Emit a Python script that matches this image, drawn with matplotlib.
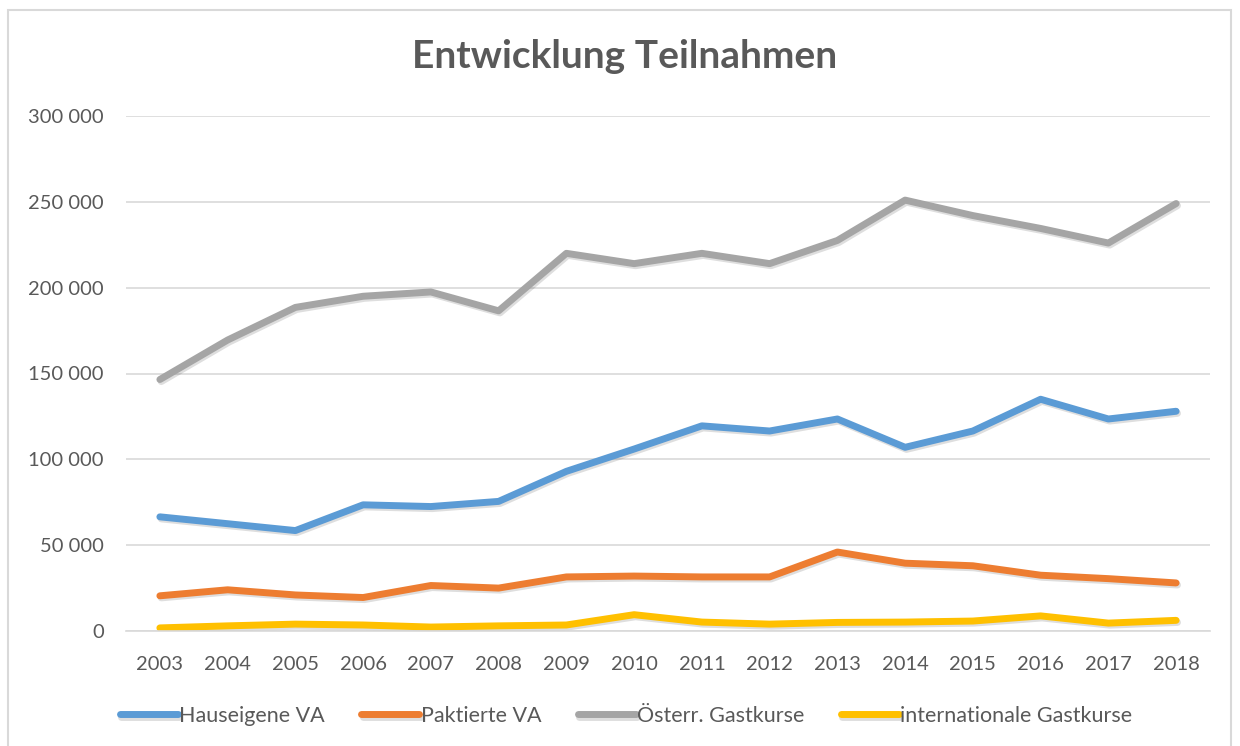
import matplotlib
matplotlib.use("Agg")
import matplotlib.pyplot as plt
import matplotlib.patheffects as pe
from matplotlib.ticker import FuncFormatter, MultipleLocator
from matplotlib.patches import Rectangle

years = list(range(2003, 2019))

hauseigene = [66500, 62500, 58500, 73500, 72500, 75500, 93000, 106000,
              119500, 116500, 123500, 107000, 116500, 135000, 123500, 128000]
paktierte = [20500, 24000, 21000, 19500, 26500, 25000, 31500, 32000,
             31500, 31500, 46000, 39500, 38000, 32500, 30500, 28000]
oesterr = [146500, 169500, 188500, 195000, 197500, 186500, 220000, 214000,
           220000, 214000, 227500, 251000, 242000, 234500, 226000, 249000]
international = [1800, 3000, 4000, 3500, 2300, 3000, 3500, 9500,
                 5200, 4000, 5000, 5200, 5800, 8800, 4600, 6200]

series_names = ["Hauseigene VA", "Paktierte VA", "Österr. Gastkurse", "internationale Gastkurse"]
colors = ["#5B9BD5", "#ED7D31", "#A5A5A5", "#FFC000"]
text_color = "#595959"

plt.rcParams['font.family'] = ['Lato', 'DejaVu Sans']

fig = plt.figure(figsize=(12.4, 7.46), dpi=100)
ax = fig.add_axes([126 / 1240, 1 - 631 / 746, (1210 - 126) / 1240, (631 - 116) / 746])

# light border round the chart area
fig.patches.append(Rectangle((8 / 1240, -0.05), (1231 - 8) / 1240, 1.05 - 10 / 746,
                             transform=fig.transFigure, fill=False,
                             edgecolor="#D9D9D9", linewidth=1.5))

shadow = [pe.SimpleLineShadow(offset=(1, -1.5), shadow_color="black", alpha=0.13),
          pe.Normal()]

for vals, name, c in zip([hauseigene, paktierte, oesterr, international], series_names, colors):
    ax.plot(years, vals, color=c, linewidth=5, label=name,
            solid_capstyle="round", solid_joinstyle="round", path_effects=shadow)

ax.set_xlim(2002.5, 2018.5)
ax.set_ylim(0, 300000)
ax.yaxis.set_major_locator(MultipleLocator(50000))
ax.yaxis.set_major_formatter(FuncFormatter(lambda v, p: f"{int(v):,}".replace(",", " ")))
ax.set_xticks(years)
ax.set_xticklabels([str(y) for y in years])

ax.grid(axis="y", color="#D9D9D9", linewidth=1.2)
ax.set_axisbelow(True)
for side in ["top", "right", "left"]:
    ax.spines[side].set_visible(False)
ax.spines["bottom"].set_color("#D9D9D9")
ax.spines["bottom"].set_linewidth(1.2)

ax.tick_params(axis="both", length=0, labelsize=14.5, labelcolor=text_color)
ax.tick_params(axis="y", pad=16)
ax.tick_params(axis="x", pad=18)

fig.text(625 / 1240, 1 - 57 / 746, "Entwicklung Teilnahmen", ha="center", va="center",
         fontsize=28, fontweight="bold", color=text_color)

leg = fig.legend(loc="center", bbox_to_anchor=(626 / 1240, 1 - 716 / 746), ncol=4,
                 frameon=False, fontsize=15.5, handlelength=2.7, handletextpad=0.05,
                 columnspacing=1.7)
for t in leg.get_texts():
    t.set_color(text_color)

fig.savefig("out.png", dpi=100)
